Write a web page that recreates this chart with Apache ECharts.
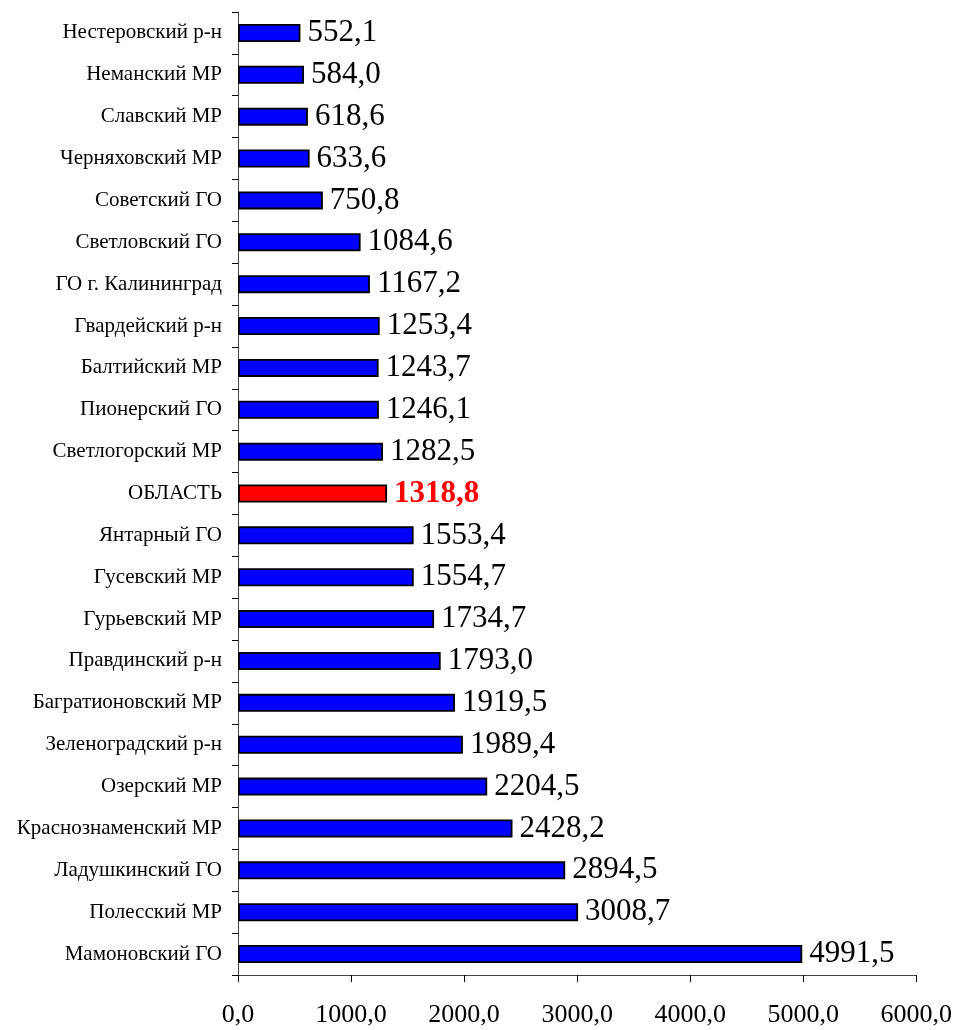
<!DOCTYPE html>
<html><head><meta charset="utf-8">
<script src="https://cdn.jsdelivr.net/npm/echarts@6/dist/echarts.min.js"></script>
<style>html,body{margin:0;padding:0;background:#fff}#c{width:955px;height:1030px}</style>
</head><body><div id="c"></div>
<script>
const categories = ["Нестеровский р-н","Неманский МР","Славский МР","Черняховский МР","Советский ГО","Светловский ГО","ГО г. Калининград","Гвардейский р-н","Балтийский МР","Пионерский ГО","Светлогорский МР","ОБЛАСТЬ","Янтарный ГО","Гусевский МР","Гурьевский МР","Правдинский р-н","Багратионовский МР","Зеленоградский р-н","Озерский МР","Краснознаменский МР","Ладушкинский ГО","Полесский МР","Мамоновский ГО"];
const values = [552.1,584.0,618.6,633.6,750.8,1084.6,1167.2,1253.4,1243.7,1246.1,1282.5,1318.8,1553.4,1554.7,1734.7,1793.0,1919.5,1989.4,2204.5,2428.2,2894.5,3008.7,4991.5];
const highlight = "ОБЛАСТЬ";
const fmt = v => v.toFixed(1).replace('.', ',');
const font = "'Liberation Serif','Times New Roman',serif";
const chart = echarts.init(document.getElementById('c'));
chart.setOption({
  animation:false,
  grid:{left:238,right:38,top:12,bottom:55,containLabel:false},
  xAxis:{type:'value',min:0,max:6000,interval:1000,
    axisLine:{show:true,lineStyle:{color:'#444',width:1}},
    axisTick:{show:true,length:7,lineStyle:{color:'#000'}},
    splitLine:{show:false},
    axisLabel:{formatter:v=>fmt(v),fontFamily:font,fontSize:26,color:'#000',margin:27}},
  yAxis:{type:'category',data:categories,inverse:true,
    axisLine:{show:true,lineStyle:{color:'#444',width:1}},
    axisTick:{show:true,length:6,lineStyle:{color:'#000'}},
    axisLabel:{fontFamily:font,fontSize:21,color:'#000',margin:16}},
  series:[{type:'bar',barWidth:18,
    data:values.map((v,i)=>{
      const hi = categories[i]===highlight;
      return {value:v,
        itemStyle:{color:hi?'#FF0000':'#0000FF',borderColor:'#000',borderWidth:1.8},
        label:{show:true,position:'right',distance:7,formatter:p=>fmt(p.value),
          fontFamily:font,fontSize:31,fontWeight:hi?'bold':'normal',color:hi?'#FF0000':'#000'}};
    })}]
});
</script></body></html>
